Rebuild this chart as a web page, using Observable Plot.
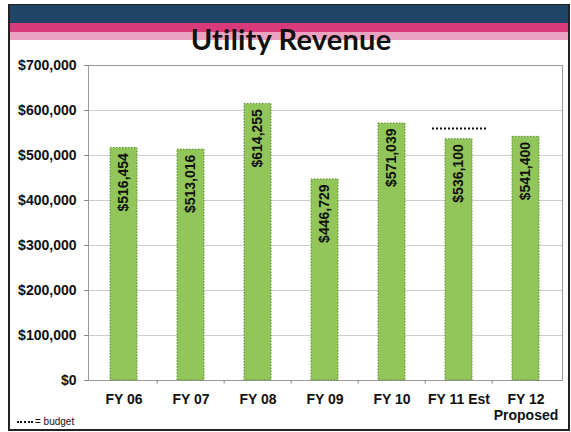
<!DOCTYPE html>
<html>
<head>
<meta charset="utf-8">
<script src="https://cdn.jsdelivr.net/npm/d3@7"></script>
<script src="https://cdn.jsdelivr.net/npm/@observablehq/plot@0.6"></script>
<style>
  html, body { margin: 0; padding: 0; background: #fff; }
  #wrap { position: relative; width: 571px; height: 432px; overflow: hidden; font-family: "Liberation Sans", Arial, sans-serif; }
  #wrap svg { position: absolute; left: 0; top: 0; }
  .band { position: absolute; }
  #title { position: absolute; left: 0; width: 582px; top: 21px; text-align: center; font-family: Lato, "Open Sans", sans-serif; font-weight: 700; font-size: 29px; color: #111; letter-spacing: 0.2px; }
  #legend { position: absolute; left: 17px; top: 416px; font-size: 10px; color: #111; }
  #legend span { display: inline-block; width: 16px; border-top: 2px dotted #111; vertical-align: middle; margin-right: 2px; }
  #frame { position: absolute; left: 8px; top: 4px; width: 558px; height: 424px; border: 2px solid #222; border-top-width: 1px; pointer-events: none; }
</style>
</head>
<body>
<div id="wrap">
  <div class="band" style="left:9px;top:5px;width:559px;height:18px;background:#1f4466;"></div>
  <div class="band" style="left:9px;top:23px;width:559px;height:9px;background:#d83a7c;"></div>
  <div class="band" style="left:9px;top:32px;width:559px;height:8px;background:#eca3c2;"></div>
  <div id="title">Utility Revenue</div>
  <div id="legend"><span></span>= budget</div>
  <div id="frame"></div>
</div>
<script>
const categories = ["FY 06", "FY 07", "FY 08", "FY 09", "FY 10", "FY 11 Est", "FY 12\nProposed"];
const revenue = [516454, 513016, 614255, 446729, 571039, 536100, 541400];
const budgetCategory = ["FY 11 Est"];
const budgetValue = [560000];
const yTicks = [0, 100000, 200000, 300000, 400000, 500000, 600000, 700000];

const data = categories.map((c, i) => ({category: c, value: revenue[i]}));
const budget = budgetCategory.map((c, i) => ({category: c, value: budgetValue[i]}));
const money = d => "$" + d3.format(",")(d);

const W = 571, H = 432, mL = 88, mR = 9, mT = 65, mB = 52;
const step = (W - mL - mR) / categories.length;

const chart = Plot.plot({
  width: W,
  height: H,
  marginLeft: mL,
  marginRight: mR,
  marginTop: mT,
  marginBottom: mB,
  style: {background: "transparent", fontFamily: "'Liberation Sans', Arial, sans-serif", color: "#111"},
  x: {domain: categories, paddingInner: 0.59, paddingOuter: 0.295, align: 0.5, label: null},
  y: {domain: [0, 700000], label: null},
  marks: [
    Plot.gridY(yTicks, {stroke: "#cfcfcf", strokeOpacity: 1}),
    Plot.frame({stroke: "#9a9a9a", strokeWidth: 1}),
    Plot.barY(data, {x: "category", y: "value", fill: "#92c65a", stroke: "#5e8d34", strokeWidth: 1, strokeDasharray: "1.5 1.5"}),
    Plot.text(data, {x: "category", y: "value", text: d => money(d.value), rotate: -90, textAnchor: "end", dy: 5, fontSize: 14, fontWeight: "bold", fill: "#111"}),
    Plot.tickY(budget, {x: "category", y: "value", stroke: "#111", strokeWidth: 2, strokeDasharray: "2 2", insetLeft: -13, insetRight: -14}),
    Plot.ruleX(categories.slice(1), {x: d => d, y1: 0, y2: -8000, dx: -step / 2, stroke: "#888"}),
    Plot.axisY(yTicks, {tickFormat: money, tickSize: 4, tickPadding: 8, fontSize: 14, fontWeight: "bold", stroke: "#888"}),
    Plot.axisX({tickSize: 0, tickPadding: 13, fontSize: 14, fontWeight: "bold", lineHeight: 1.1})
  ]
});
document.getElementById("wrap").insertBefore(chart, document.getElementById("title"));
</script>
</body>
</html>
